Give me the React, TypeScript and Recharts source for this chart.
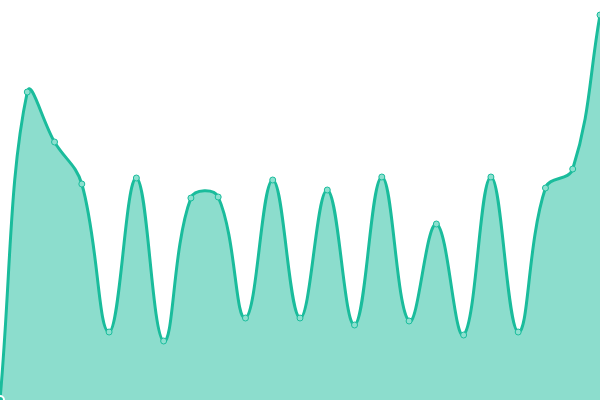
import { AreaChart, Area, XAxis, YAxis } from 'recharts'

const labels = ['1', '2', '3', '4', '5', '6', '7', '8', '9', '10', '11', '12', '13', '14', '15', '16', '17', '18', '19', '20', '21', '22', '23']
const values = [0, 308, 258, 216, 68, 222, 59, 202, 203, 82, 220, 82, 210, 75, 223, 79, 176, 65, 223, 68, 212, 231, 385]

const data = labels.map((name, i) => ({ name, value: values[i] }))

// bezier spline with tension (control points scaled by neighbour distances)
function tensionCurve(t: number) {
  return (ctx: any) => {
    let pts: number[][] = []
    let line = NaN
    const draw = () => {
      const n = pts.length
      if (!n) return
      if (line) ctx.lineTo(pts[0][0], pts[0][1])
      else ctx.moveTo(pts[0][0], pts[0][1])
      const cps = pts.map((cur, i) => {
        const prev = pts[i - 1] || cur
        const next = pts[i + 1] || cur
        const d01 = Math.hypot(cur[0] - prev[0], cur[1] - prev[1])
        const d12 = Math.hypot(next[0] - cur[0], next[1] - cur[1])
        let s01 = d01 / (d01 + d12)
        let s12 = d12 / (d01 + d12)
        if (isNaN(s01)) s01 = 0
        if (isNaN(s12)) s12 = 0
        const fa = t * s01
        const fb = t * s12
        const dx = next[0] - prev[0]
        const dy = next[1] - prev[1]
        return {
          prev: [cur[0] - fa * dx, cur[1] - fa * dy],
          next: [cur[0] + fb * dx, cur[1] + fb * dy],
        }
      })
      for (let i = 0; i < n - 1; i++) {
        const a = cps[i].next
        const b = cps[i + 1].prev
        ctx.bezierCurveTo(a[0], a[1], b[0], b[1], pts[i + 1][0], pts[i + 1][1])
      }
    }
    return {
      areaStart() { line = 0 },
      areaEnd() { line = NaN },
      lineStart() { pts = [] },
      lineEnd() {
        draw()
        if (line || (line !== 0 && pts.length === 1)) ctx.closePath()
        line = 1 - line
      },
      point(x: number, y: number) { pts.push([+x, +y]) },
    }
  }
}

const curve = tensionCurve(0.4)

export default function App() {
  return (
    <div style={{ position: 'fixed', left: 0, top: 0 }}>
      <AreaChart width={600} height={400} data={data} margin={{ top: 0, right: 0, bottom: 0, left: 0 }}>
        <XAxis dataKey="name" hide />
        <YAxis hide domain={[0, 400]} />
        <Area
          type={curve as any}
          dataKey="value"
          stroke="#1abc9c"
          strokeWidth={3}
          fill="#1abc9c"
          fillOpacity={0.5}
          dot={{ r: 3, fill: '#8ce0cf', stroke: '#1abc9c', strokeWidth: 1, fillOpacity: 1 }}
          isAnimationActive={false}
        />
      </AreaChart>
    </div>
  )
}
